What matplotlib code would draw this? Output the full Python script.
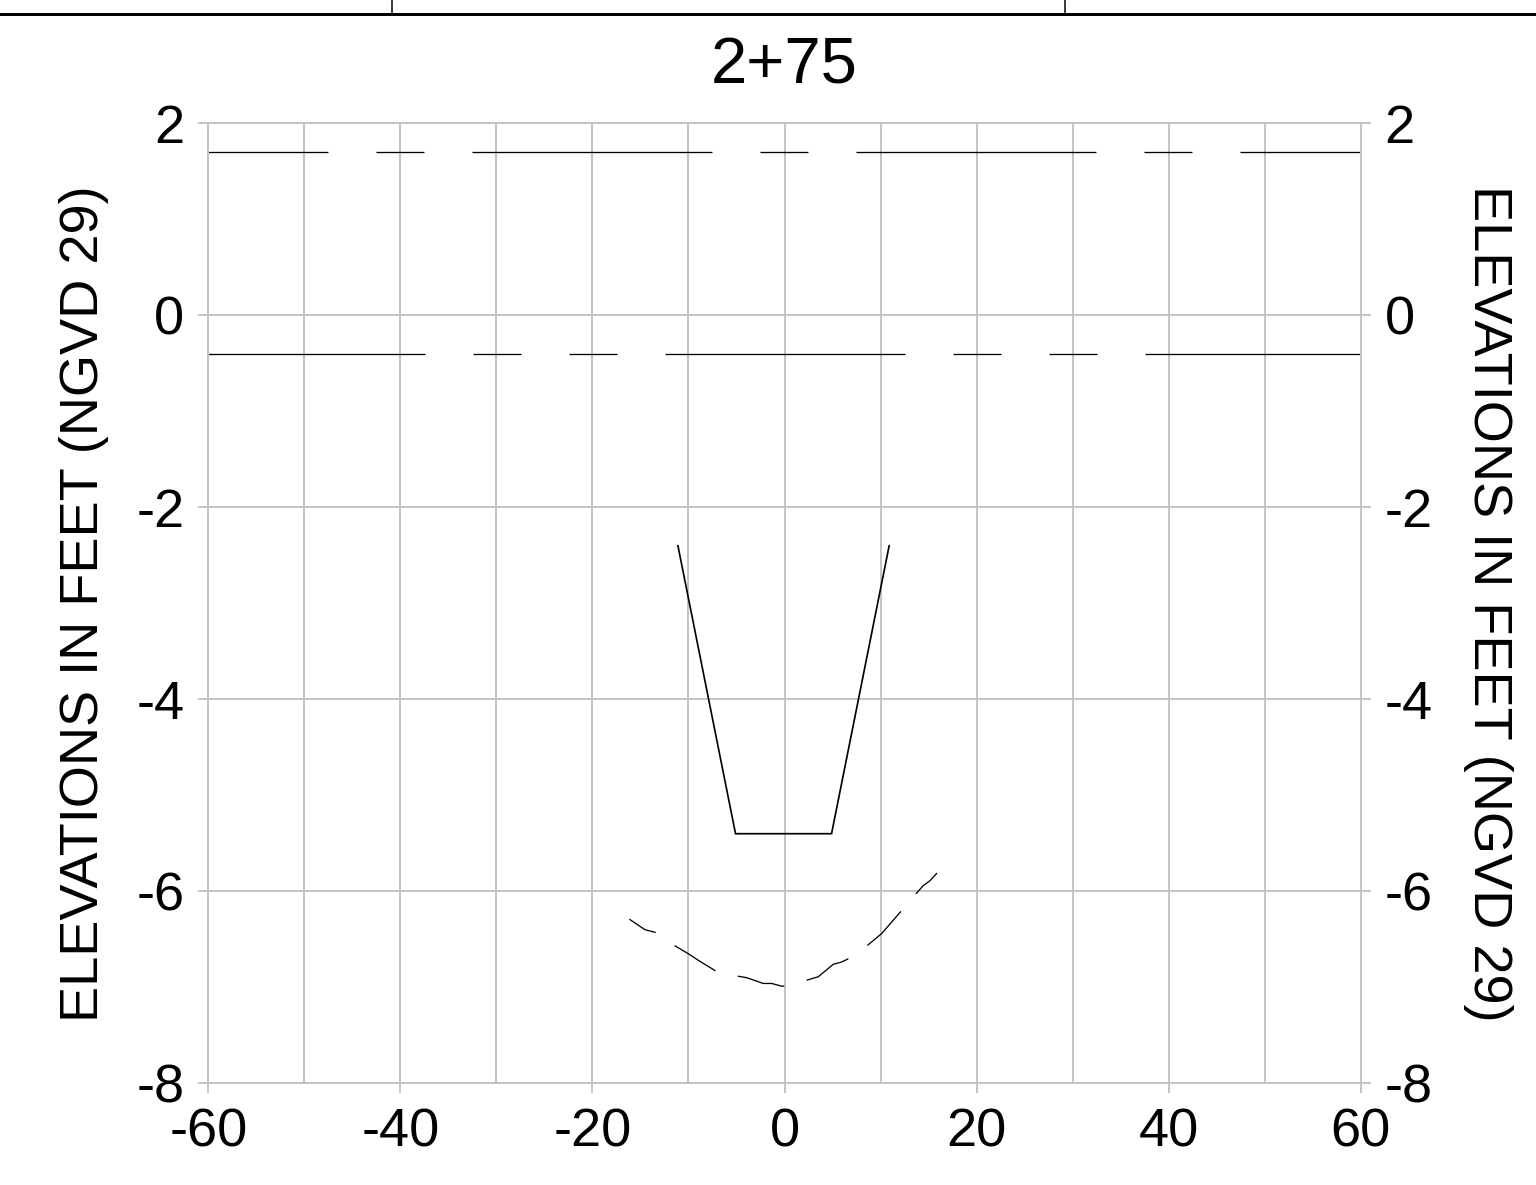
import matplotlib
matplotlib.use("Agg")
import matplotlib.pyplot as plt
from matplotlib.lines import Line2D

plt.rcParams['font.family'] = ['Liberation Sans', 'DejaVu Sans']
plt.rcParams['lines.scale_dashes'] = False
plt.rcParams['axes.unicode_minus'] = False

# ---- data ----
title = "2+75"
x_ticks = [-60, -40, -20, 0, 20, 40, 60]
y_ticks = [-8, -6, -4, -2, 0, 2]
x_limits = (-60, 60)
y_limits = (-8, 2)
ylabel = "ELEVATIONS IN FEET (NGVD 29)"

upper_level = 1.7
lower_level = -0.4

channel_x = [-11.1, -5.1, 4.9, 10.9]
channel_y = [-2.4, -5.4, -5.4, -2.4]

existing_x = [-16.16, -14.53, -13.38, -11.37, -10.02, -8.80, -7.16, -5.08, -3.94,
              -2.21, -1.33, -0.23, 2.17, 3.52, 5.08, 5.85, 6.51, 8.56, 10.12,
              12.03, 13.66, 14.45, 15.15, 15.88]
existing_y = [-6.29, -6.40, -6.43, -6.57, -6.65, -6.73, -6.83, -6.88, -6.90,
              -6.96, -6.96, -6.99, -6.93, -6.89, -6.76, -6.74, -6.71, -6.57, -6.44,
              -6.22, -6.03, -5.94, -5.89, -5.81]

# ---- figure ----
W, H, DPI = 1536, 1185, 100
fig = plt.figure(figsize=(W / DPI, H / DPI), dpi=DPI)
px = 72.0 / DPI  # points per pixel

ax = fig.add_axes([208.3 / W, 101.7 / H, 1152.4 / W, 960.0 / H])
ax.set_xlim(*x_limits)
ax.set_ylim(*y_limits)

grid_c = '#c4c4c4'
ax.set_xticks(x_ticks)
ax.set_yticks(y_ticks)
ax.set_xticks(range(-60, 61, 10), minor=True)
ax.grid(True, which='both', color=grid_c, lw=2 * px)
ax.set_axisbelow(True)
for s in ax.spines.values():
    s.set_color(grid_c)
    s.set_linewidth(2 * px)

ax.tick_params(axis='both', which='both', color=grid_c, width=2 * px,
               length=10 * px, direction='out', labelsize=39)
ax.tick_params(axis='x', which='minor', length=0)
ax.tick_params(axis='y', left=True, right=True, labelleft=True, labelright=True, pad=10)
ax.tick_params(axis='x', pad=10)

ymid = 1 - 0.5 * (123.3 + 1083.3) / H
fig.text(84 / W, ymid, ylabel, rotation=90, ha='center', va='center', fontsize=39)
fig.text(1488 / W, ymid, ylabel, rotation=270, ha='center', va='center', fontsize=39)

fig.text(783.7 / W, 1 - 84 / H, title, ha='center', va='baseline', fontsize=47)

# horizontal dashed levels
ax.plot([x_limits[0], x_limits[1]], [upper_level, upper_level], color='black',
        lw=1.3 * px, linestyle=(120 * px, (240 * px, 48 * px, 48 * px, 48 * px)))
ax.plot([x_limits[0], x_limits[1]], [lower_level, lower_level], color='black',
        lw=1.3 * px,
        linestyle=(23 * px, (240 * px, 48 * px, 48 * px, 48 * px, 48 * px, 48 * px)))

# proposed channel
ax.plot(channel_x, channel_y, color='black', lw=1.7 * px, solid_joinstyle='miter')

# existing bottom
ax.plot(existing_x, existing_y, color='black', lw=1.3 * px,
        linestyle=(18 * px, (48 * px, 23 * px)))

# drawing frame at top
fig.add_artist(Line2D([0, 1], [1 - 14 / H, 1 - 14 / H], transform=fig.transFigure,
                      color='black', lw=3 * px))
for xv in (392 / W, 1064.5 / W):
    fig.add_artist(Line2D([xv, xv], [1 - 14 / H, 1], transform=fig.transFigure,
                          color='black', lw=1.5 * px))

fig.savefig("out.png", dpi=DPI)
